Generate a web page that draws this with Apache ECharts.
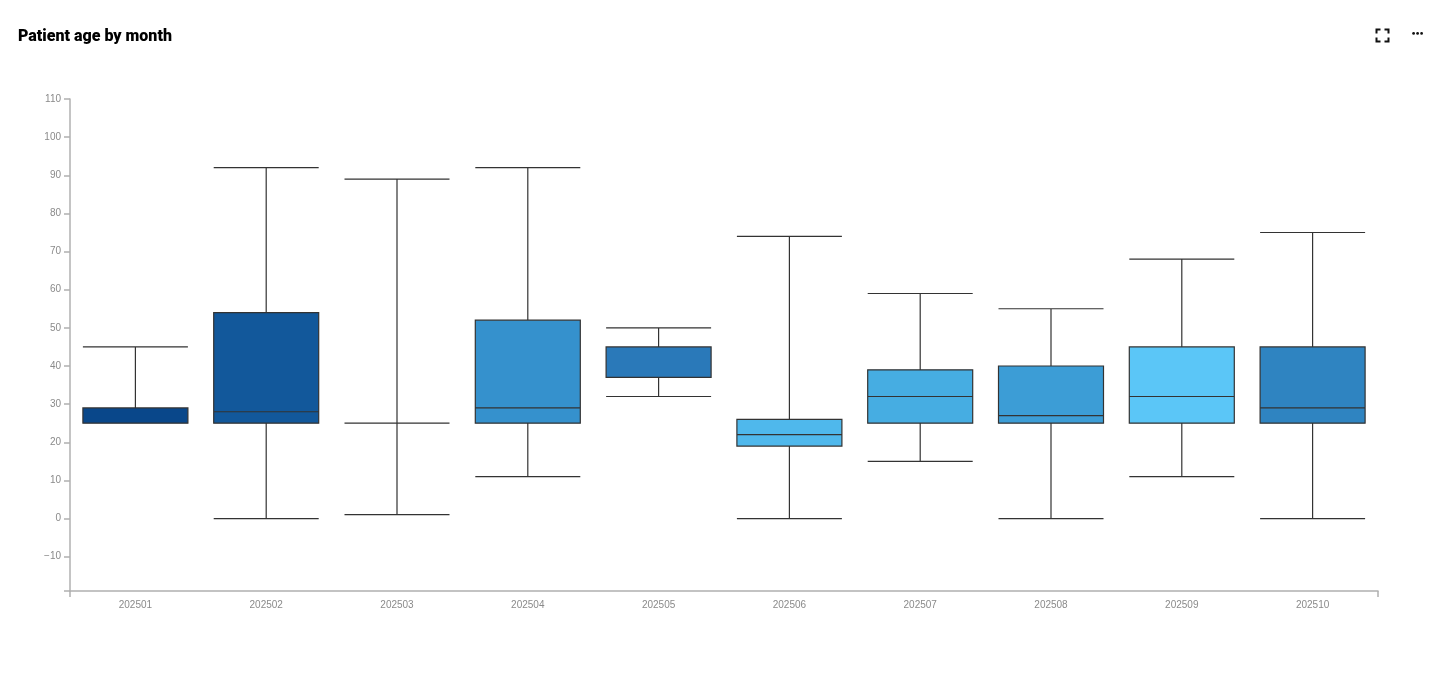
<!DOCTYPE html>
<html>
<head>
<meta charset="utf-8">
<script src="https://cdn.jsdelivr.net/npm/echarts@6/dist/echarts.min.js"></script>
<style>
html,body{margin:0;padding:0;background:#fff;}
#chart{width:1436px;height:675px;}
</style>
</head>
<body>
<div id="chart"></div>
<script>
var categories = ['202501','202502','202503','202504','202505','202506','202507','202508','202509','202510'];
var mins    = [25, 0,  1, 11, 32,  0, 15,  0, 11,  0];
var q1s     = [25, 25, 25, 25, 37, 19, 25, 25, 25, 25];
var medians = [25, 28, 25, 29, 45, 22, 32, 27, 32, 29];
var q3s     = [29, 54, 25, 52, 45, 26, 39, 40, 45, 45];
var maxs    = [45, 92, 89, 92, 50, 74, 59, 55, 68, 75];
var yTickLabels = [-10, 0, 10, 20, 30, 40, 50, 60, 70, 80, 90, 100, 110];

var boxColors = ['#09478a','#12589b','#3591cd','#3591cd','#2a79b9','#4fb8ec','#46ade2','#3c9dd6','#5bc6f7','#2f84c1'];

var chart = echarts.init(document.getElementById('chart'));
var data = categories.map(function (c, i) {
  return {
    value: [mins[i], q1s[i], medians[i], q3s[i], maxs[i]],
    itemStyle: { color: boxColors[i], borderColor: '#333', borderWidth: 1.2 }
  };
});
var labelFont = { color: '#8a8a8a', fontSize: 10, fontFamily: 'Liberation Sans, Arial, sans-serif' };
var axisColor = '#b0b0b0';
var iconStroke = { stroke: '#111', lineWidth: 2, fill: 'none' };

chart.setOption({
  animation: false,
  title: {
    text: 'Patient age by month',
    left: 13, top: 24,
    textStyle: { fontFamily: 'Roboto, sans-serif', fontWeight: 900, fontSize: 16, color: '#000' }
  },
  graphic: [{
    type: 'group',
    right: 45, top: 27,
    children: [
      { type: 'polyline', shape: { points: [[0, 4], [0, 0], [4, 0]] }, style: iconStroke },
      { type: 'polyline', shape: { points: [[8, 0], [12, 0], [12, 4]] }, style: iconStroke },
      { type: 'polyline', shape: { points: [[12, 8], [12, 12], [8, 12]] }, style: iconStroke },
      { type: 'polyline', shape: { points: [[4, 12], [0, 12], [0, 8]] }, style: iconStroke }
    ]
  }, {
    type: 'group',
    right: 13, top: 32,
    children: [
      { type: 'circle', shape: { cx: 1.4, cy: 1.4, r: 1.4 }, style: { fill: '#111' } },
      { type: 'circle', shape: { cx: 5.4, cy: 1.4, r: 1.4 }, style: { fill: '#111' } },
      { type: 'circle', shape: { cx: 9.4, cy: 1.4, r: 1.4 }, style: { fill: '#111' } }
    ]
  }],
  grid: { left: 70, right: 58, top: 99, bottom: 84 },
  xAxis: [{
    type: 'category',
    data: categories,
    boundaryGap: true,
    axisLine: { onZero: false, lineStyle: { color: axisColor, width: 1.5 } },
    axisTick: { alignWithLabel: true, length: 6, lineStyle: { color: axisColor, width: 1.5 } },
    axisLabel: Object.assign({ margin: 9 }, labelFont),
    splitLine: { show: false }
  }, {
    type: 'value', min: 0, max: 1, interval: 1, position: 'bottom',
    axisLine: { show: false, onZero: false },
    axisTick: { show: true, length: 6, lineStyle: { color: axisColor, width: 1.5 } },
    axisLabel: { show: false },
    splitLine: { show: false }
  }],
  yAxis: {
    type: 'value',
    min: -19, max: 110,
    axisLine: { show: true, onZero: false, lineStyle: { color: axisColor, width: 1.5 } },
    axisTick: { show: true, length: 6, customValues: [-19].concat(yTickLabels), lineStyle: { color: axisColor, width: 1.5 } },
    axisLabel: Object.assign({
      margin: 9,
      customValues: yTickLabels,
      formatter: function (v) { return String(v).replace('-', '\u2212'); }
    }, labelFont),
    splitLine: { show: false }
  },
  series: [{
    type: 'boxplot',
    xAxisIndex: 0,
    boxWidth: [105, 105],
    data: data
  }]
});
</script>
</body>
</html>
